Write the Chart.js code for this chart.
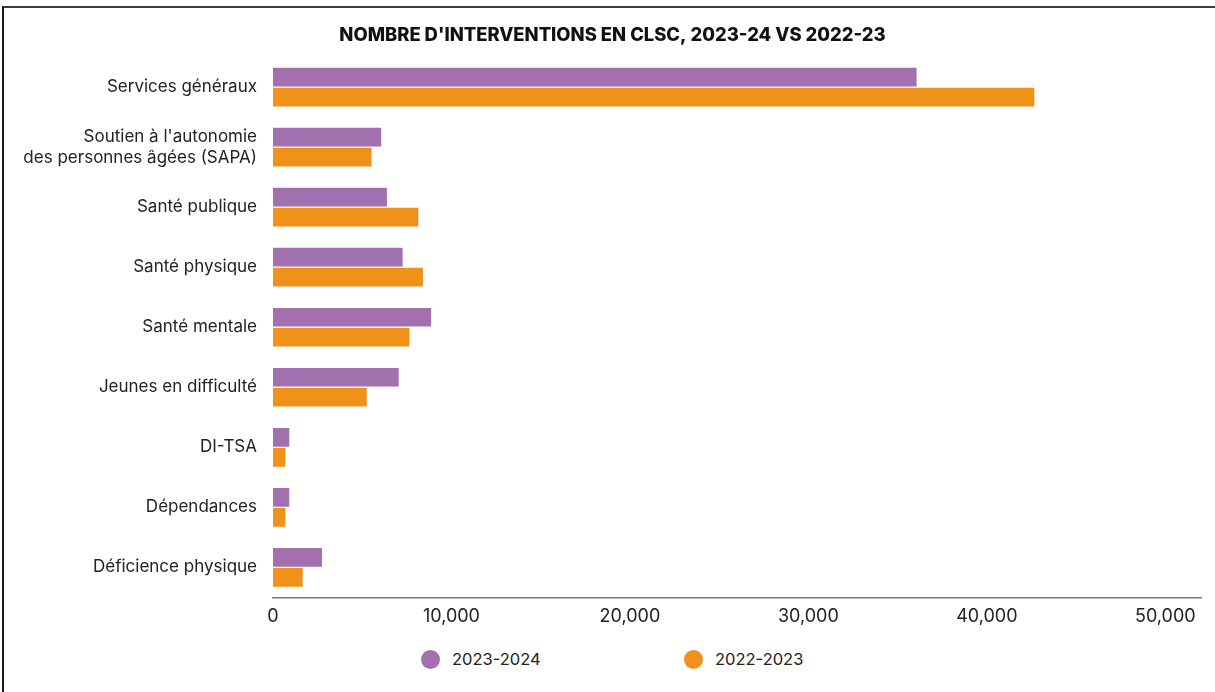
<!DOCTYPE html>
<html lang="fr">
<head>
    <meta charset="UTF-8"/>
    <title>Nombre d'interventions en CLSC</title>
    <script src="https://cdn.jsdelivr.net/npm/chart.js"></script>
    <style>
        html, body {
            margin: 0;
            padding: 0;
            background: #fff;
            width: 1215px;
            height: 692px;
            overflow: hidden;
            font-family: 'Inter', sans-serif;
        }
        .frame {
            position: absolute;
            left: 2px;
            top: 6px;
            right: 0;
            bottom: 0;
            border-left: 2px solid #1a1a1a;
            border-top: 2px solid #3a3a3a;
        }
        .canvas-wrap {
            position: absolute;
            left: 0;
            top: 0;
            width: 1215px;
            height: 635px;
        }
        .legend {
            position: absolute;
            top: 648px;
            left: 0;
            width: 1215px;
            height: 22px;
            font-size: 16.5px;
            color: #222;
        }
        .legend span {
            position: absolute;
            top: 0;
            line-height: 22px;
        }
        .legend .dot {
            width: 19px;
            height: 19px;
            border-radius: 50%;
            top: 1.5px;
        }
    </style>
</head>
<body>
<div class="frame"></div>
<div class="canvas-wrap"><canvas id="chart"></canvas></div>
<div class="legend">
    <span class="dot" style="left:421px;background:#a270ae"></span>
    <span style="left:452px">2023-2024</span>
    <span class="dot" style="left:684px;background:#f0911a"></span>
    <span style="left:715px">2022-2023</span>
</div>

<script>
    const categories = [
        'Services généraux',
        ["Soutien à l'autonomie", 'des personnes âgées (SAPA)'],
        'Santé publique',
        'Santé physique',
        'Santé mentale',
        'Jeunes en difficulté',
        'DI-TSA',
        'Dépendances',
        'Déficience physique'
    ];
    const series2023 = [36100, 6100, 6420, 7300, 8900, 7080, 950, 950, 2780];
    const series2022 = [42700, 5560, 8180, 8440, 7680, 5290, 730, 730, 1700];
    const xTicks = [0, 10000, 20000, 30000, 40000, 50000];

    const ctx = document.getElementById('chart').getContext('2d');

    new Chart(ctx, {
        type: 'bar',
        data: {
            labels: categories,
            datasets: [{
                label: '2023-2024',
                data: series2023,
                backgroundColor: '#a270ae',
                borderColor: 'rgba(255,255,255,0.35)',
                borderWidth: 1,
                barThickness: 20
            }, {
                label: '2022-2023',
                data: series2022,
                backgroundColor: '#f0911a',
                borderColor: 'rgba(255,255,255,0.35)',
                borderWidth: 1,
                barThickness: 20
            }]
        },
        options: {
            indexAxis: 'y',
            responsive: true,
            maintainAspectRatio: false,
            animation: false,
            layout: {
                padding: {top: 18, right: 14, bottom: 0, left: 24}
            },
            scales: {
                x: {
                    min: 0,
                    max: 52000,
                    afterBuildTicks: s => {
                        s.ticks = xTicks.map(v => ({value: v}));
                    },
                    grid: {display: false, drawTicks: false},
                    border: {display: true, color: '#777', width: 1.5},
                    ticks: {
                        color: '#222',
                        padding: 8,
                        font: {family: 'Inter', size: 18},
                        callback: v => v.toLocaleString('en-US')
                    }
                },
                y: {
                    afterFit: s => { s.width = 249; },
                    grid: {display: false, drawTicks: false},
                    border: {display: false},
                    ticks: {
                        color: '#222',
                        padding: 16,
                        font: {family: 'Inter', size: 17, lineHeight: 1.25}
                    }
                }
            },
            plugins: {
                legend: {display: false},
                tooltip: {enabled: false},
                title: {
                    display: true,
                    text: "NOMBRE D'INTERVENTIONS EN CLSC, 2023-24 VS 2022-23",
                    color: '#111',
                    font: {family: 'Inter', size: 18.4, weight: 800, lineHeight: 1.2},
                    padding: {top: 6, bottom: 11}
                }
            }
        }
    });
</script>
</body>
</html>
